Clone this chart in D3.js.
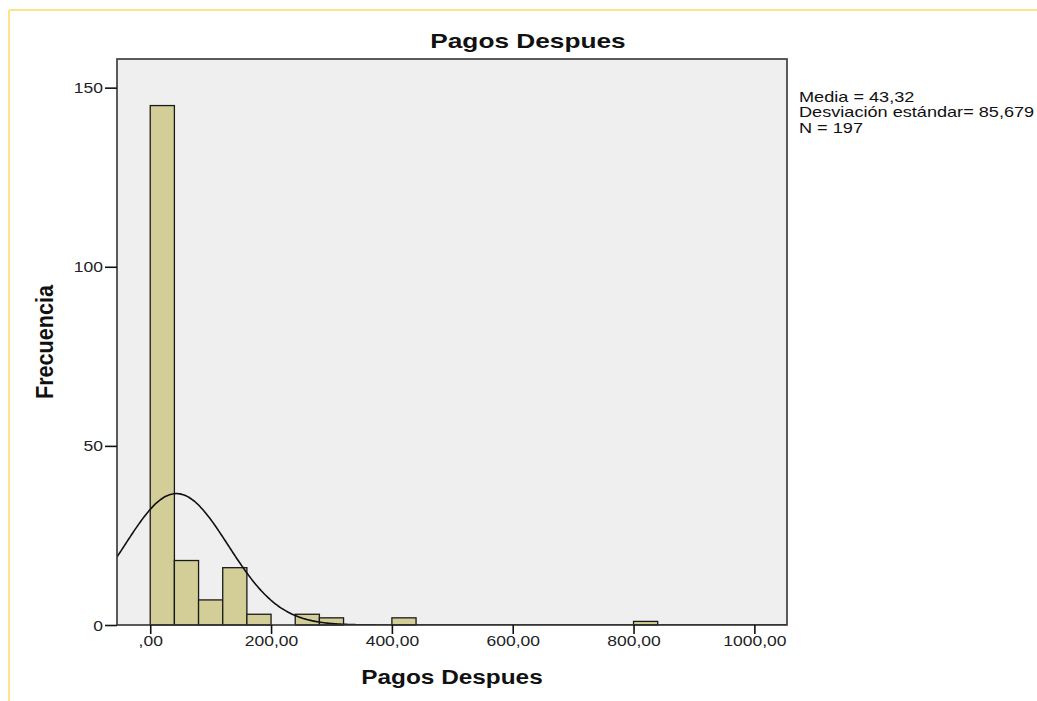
<!DOCTYPE html>
<html>
<head>
<meta charset="utf-8">
<script src="https://cdn.jsdelivr.net/npm/d3@7"></script>
<style>
  html, body { margin: 0; padding: 0; background: #ffffff; }
  svg { display: block; font-family: "Liberation Sans", Arial, sans-serif; }
</style>
</head>
<body>
<svg id="chart" width="1037" height="701"></svg>
<script>
// Histogram of "Pagos Despues" with fitted normal curve
const binLower = [0, 40, 80, 120, 160, 240, 280, 400, 800];
const binCounts = [145, 18, 7, 16, 3, 3, 2, 2, 1];
const binWidth = 40;
const stats = { mean: 43.32, sd: 85.679, n: 197 };
const xTicks = [0, 200, 400, 600, 800, 1000];
const yTicks = [0, 50, 100, 150];
const statLines = ["Media = 43,32", "Desviación estándar= 85,679", "N = 197"];

const fmtX = v => (v === 0 ? ",00" : d3.format("d")(v) + ",00");

const svg = d3.select("#chart");
const SX = 1.25; // horizontal text stretch

// outer frame (top and left edges)
svg.append("line").attr("x1", 9).attr("x2", 1037).attr("y1", 10).attr("y2", 10)
  .attr("stroke", "#fde48c").attr("stroke-width", 2);
svg.append("line").attr("x1", 9).attr("x2", 9).attr("y1", 10).attr("y2", 701)
  .attr("stroke", "#fde48c").attr("stroke-width", 2);

const plot = { left: 117, right: 787, top: 59, bottom: 625 };

const x = d3.scaleLinear().domain([-55, 1054]).range([plot.left, plot.right]);
const y = d3.scaleLinear().domain([0, 158]).range([plot.bottom, plot.top]);

// plot background
svg.append("rect")
  .attr("x", plot.left).attr("y", plot.top)
  .attr("width", plot.right - plot.left).attr("height", plot.bottom - plot.top)
  .attr("fill", "#efefef");

svg.append("clipPath").attr("id", "clip").append("rect")
  .attr("x", plot.left).attr("y", plot.top)
  .attr("width", plot.right - plot.left).attr("height", plot.bottom - plot.top);

// bars
const bins = binLower.map((lo, i) => ({ lo, hi: lo + binWidth, count: binCounts[i] }));
svg.append("g").selectAll("rect").data(bins).join("rect")
  .attr("x", d => x(d.lo))
  .attr("y", d => y(d.count))
  .attr("width", d => x(d.hi) - x(d.lo))
  .attr("height", d => y(0) - y(d.count))
  .attr("fill", "#d3ce97")
  .attr("stroke", "#1a1a1a")
  .attr("stroke-width", 1.3);

// fitted normal curve scaled to counts
const pdf = v => stats.n * binWidth / (stats.sd * Math.sqrt(2 * Math.PI)) *
  Math.exp(-0.5 * Math.pow((v - stats.mean) / stats.sd, 2));
const xs = d3.range(-55, 1054.5, 2);
svg.append("path")
  .datum(xs)
  .attr("clip-path", "url(#clip)")
  .attr("fill", "none")
  .attr("stroke", "#111")
  .attr("stroke-width", 1.6)
  .attr("d", d3.line().x(d => x(d)).y(d => y(pdf(d))).curve(d3.curveBasis));

// frame of plot area
svg.append("rect")
  .attr("x", plot.left).attr("y", plot.top)
  .attr("width", plot.right - plot.left).attr("height", plot.bottom - plot.top)
  .attr("fill", "none").attr("stroke", "#333").attr("stroke-width", 1.6);

// axes
const xAxis = svg.append("g")
  .attr("transform", `translate(0,${plot.bottom})`)
  .call(d3.axisBottom(x).tickValues(xTicks).tickFormat(fmtX).tickSize(9).tickPadding(4));
const yAxis = svg.append("g")
  .attr("transform", `translate(${plot.left},0)`)
  .call(d3.axisLeft(y).tickValues(yTicks).tickFormat(d3.format("d")).tickSize(12).tickPadding(2));

[xAxis, yAxis].forEach(g => {
  g.select(".domain").remove();
  g.selectAll(".tick line").attr("stroke", "#111").attr("stroke-width", 1.6);
  g.selectAll(".tick text").attr("font-size", 14).attr("fill", "#222")
    .attr("font-family", "Liberation Sans, Arial, sans-serif");
});
xAxis.selectAll(".tick text").attr("transform", `scale(${SX},1)`).attr("dy", "0.75em").attr("y", 11);
yAxis.selectAll(".tick text").attr("transform", `scale(${SX},1)`).attr("x", -14 / SX).attr("dy", "0.36em");

// title
svg.append("text")
  .attr("transform", `translate(528,48) scale(${SX},1)`)
  .attr("text-anchor", "middle")
  .attr("font-size", 21).attr("font-weight", "bold").attr("fill", "#111")
  .text("Pagos Despues");

// axis titles
svg.append("text")
  .attr("transform", `translate(452,684) scale(${SX},1)`)
  .attr("text-anchor", "middle")
  .attr("font-size", 19.5).attr("font-weight", "bold").attr("fill", "#111")
  .text("Pagos Despues");

svg.append("text")
  .attr("transform", `translate(53,342) scale(1.15,1.08) rotate(-90)`)
  .attr("text-anchor", "middle")
  .attr("font-size", 20).attr("font-weight", "bold").attr("fill", "#111")
  .text("Frecuencia");

// summary statistics
const stat = svg.append("g").attr("transform", `translate(799,0) scale(${SX},1)`);
stat.selectAll("text").data(statLines).join("text")
  .attr("x", 0)
  .attr("y", (d, i) => 102 + i * 15.5)
  .attr("font-size", 14.5).attr("fill", "#111")
  .text(d => d);
</script>
</body>
</html>
